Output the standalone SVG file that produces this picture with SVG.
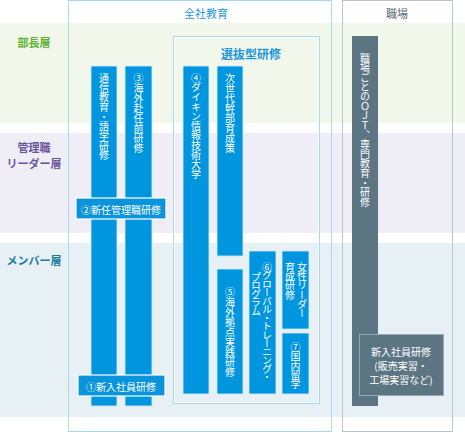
<svg xmlns="http://www.w3.org/2000/svg" width="465" height="432" viewBox="0 0 465 432">
<style>
text{font-family:"Noto Sans CJK JP","Noto Sans",sans-serif;}
.bar{fill:#0096df;stroke:#d6eefa;stroke-width:0.8;}
.hbox{fill:#0a94dc;stroke:#ffffff;stroke-width:1.2;}
.gbar{fill:#5b7582;}
.vt{writing-mode:vertical-rl;fill:#ffffff;font-size:10px;}
.ht{fill:#ffffff;font-size:10px;text-anchor:middle;dominant-baseline:central;}
.lbl{font-size:11px;font-weight:bold;text-anchor:middle;dominant-baseline:central;}
.hd{font-size:11px;text-anchor:middle;dominant-baseline:central;}
</style>
<rect width="465" height="432" fill="#ffffff"/>
<g id="bands">
<rect x="0" y="23" width="465" height="100" fill="#f2f7ec"/>
<rect x="0" y="133" width="465" height="100" fill="#efeef7"/>
<rect x="0" y="243" width="465" height="174" fill="#e6f0f5"/>
</g>
<g id="labels">
<text class="lbl" x="34" y="42" fill="#5db532">部長層</text>
<text class="lbl" x="34" y="147" fill="#6b559f">管理職</text>
<text class="lbl" x="34" y="163" fill="#6b559f">リーダー層</text>
<text class="lbl" x="34" y="260" fill="#1f7b9c">メンバー層</text>
</g>
<g id="zensha">
<rect x="68.5" y="0.5" width="263" height="431" fill="none" stroke="#a9d9f1" stroke-width="1"/>
<text class="hd" x="206" y="13" fill="#1b97d9">全社教育</text>
</g>
<g id="shokuba">
<rect x="342.5" y="0.5" width="110" height="431" fill="none" stroke="#b9c6ce" stroke-width="1"/>
<text class="hd" x="397" y="13" fill="#5b6c76">職場</text>
</g>
<g id="senbatsu">
<rect x="173.5" y="36.5" width="146" height="367" fill="none" stroke="#a9d9f1" stroke-width="1"/>
<rect x="174.5" y="37.5" width="144" height="365" fill="none" stroke="#ffffff" stroke-width="0.8"/>
<text x="251" y="53" fill="#1b97d9" font-size="12" font-weight="bold" text-anchor="middle" dominant-baseline="central">選抜型研修</text>
</g>
<g id="tsushin">
<rect class="bar" x="91" y="66" width="26" height="340"/>
<text class="vt" x="104" y="73" letter-spacing="-0.3">通信教育・語学研修</text>
</g>
<g id="kaigai-funin">
<rect class="bar" x="125" y="66" width="27" height="340"/>
<text class="vt" x="138.5" y="73">③海外赴任前研修</text>
</g>
<g id="shinnin">
<rect class="hbox" x="76" y="198" width="90" height="21"/>
<text class="ht" x="121" y="209">②新任管理職研修</text>
</g>
<g id="shinnyu">
<rect class="hbox" x="78" y="375" width="87" height="21"/>
<text class="ht" x="121" y="386">①新入社員研修</text>
</g>
<g id="daikin">
<rect class="bar" x="183" y="66" width="26" height="328"/>
<text class="vt" x="196" y="73" letter-spacing="-0.4">④ダイキン情報技術大学</text>
</g>
<g id="jisedai">
<rect class="bar" x="217" y="66" width="26" height="190"/>
<text class="vt" x="230" y="73">次世代幹部育成策</text>
</g>
<g id="kaigai-kyoten">
<rect class="bar" x="217" y="269" width="26" height="125"/>
<text class="vt" x="230" y="287">⑤海外拠点実践研修</text>
</g>
<g id="global">
<rect class="bar" x="249" y="251" width="27" height="143"/>
<text class="vt" x="267" y="262" letter-spacing="-1.5">⑥グローバル・トレーニング・</text>
<text class="vt" x="256" y="272" letter-spacing="-1.5">プログラム</text>
</g>
<g id="josei">
<rect class="bar" x="282" y="251" width="27" height="78"/>
<text class="vt" x="302" y="262" letter-spacing="-0.7">女性リーダー</text>
<text class="vt" x="290" y="262" letter-spacing="-0.7">育成研修</text>
</g>
<g id="kokunai">
<rect class="bar" x="282" y="333" width="27" height="61"/>
<text class="vt" x="295.5" y="342" letter-spacing="-0.6">⑦国内留学</text>
</g>
<g id="ojt">
<rect class="gbar" x="352" y="36" width="26" height="370"/>
<text class="vt" x="365" y="53" letter-spacing="-0.4">職場ごとのＯＪＴ、専門教育・研修</text>
</g>
<g id="shinnyu-shokuba">
<rect x="359.5" y="334.5" width="84" height="61" fill="#5b7582" stroke="#98aab3" stroke-width="1"/>
<text class="ht" x="401" y="351">新入社員研修</text>
<text class="ht" x="401" y="365">(販売実習・</text>
<text class="ht" x="401" y="379">工場実習など)</text>
</g>
<g id="connectors"></g>
</svg>
